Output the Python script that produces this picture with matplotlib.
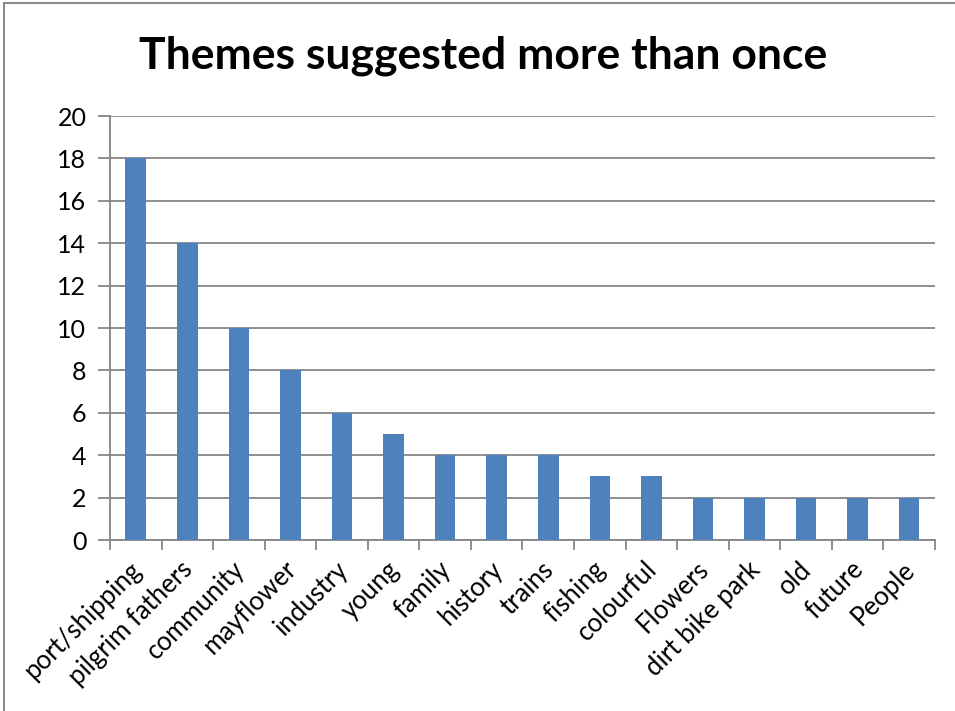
import matplotlib as mpl
mpl.use('Agg')
import matplotlib.pyplot as plt
import matplotlib.transforms as mtransforms
import numpy as np

themes = ['port/shipping', 'pilgrim fathers', 'community', 'mayflower', 'industry',
          'young', 'family', 'history', 'trains', 'fishing', 'colourful', 'Flowers',
          'dirt bike park', 'old', 'future', 'People']
counts = [18, 14, 10, 8, 6, 5, 4, 4, 4, 3, 3, 2, 2, 2, 2, 2]

plt.rcParams['font.family'] = ['Lato', 'DejaVu Sans']

fig = plt.figure(figsize=(9.55, 7.11), dpi=100)
ax = fig.add_axes([0.1152, 0.2405, 0.8638, 0.5963])

x = np.arange(len(themes))
ax.bar(x, counts, width=0.4, color='#4F81BD', zorder=3)

ax.set_xlim(-0.5, len(themes) - 0.5)
ax.set_ylim(0, 20)
ax.set_yticks(range(0, 21, 2))
ax.yaxis.grid(True, color='#868686', linewidth=1.3, zorder=0)
ax.set_xticks(np.arange(-0.5, len(themes), 1.0))
ax.set_xticklabels([])
ax.set_xticks(x, minor=True)
ax.set_xticklabels(themes, minor=True, rotation=45, ha='right', rotation_mode='anchor', fontsize=18.5)
ax.tick_params(axis='x', which='minor', length=0, pad=12)
ax.tick_params(axis='x', which='major', length=7, width=1.3, color='#868686')
ax.tick_params(axis='y', length=9, width=1.3, color='#868686', labelsize=18, pad=8)

# nudge the slanted labels a little to the left, like Excel does
shift = mtransforms.ScaledTranslation(-7 / 100, 0, fig.dpi_scale_trans)
for lbl in ax.get_xticklabels(minor=True):
    lbl.set_transform(lbl.get_transform() + shift)

for side in ['top', 'right']:
    ax.spines[side].set_visible(False)
for side in ['left', 'bottom']:
    ax.spines[side].set_color('#868686')
    ax.spines[side].set_linewidth(1.3)

fig.text(0.506, 0.921, 'Themes suggested more than once', ha='center', va='center',
         fontsize=32, fontweight='bold')

border = plt.Rectangle((0.004, -0.01), 1.1, 1.006, transform=fig.transFigure,
                       fill=False, edgecolor='#8c8c8c', linewidth=1.5)
fig.patches.append(border)

plt.savefig('out.png')
